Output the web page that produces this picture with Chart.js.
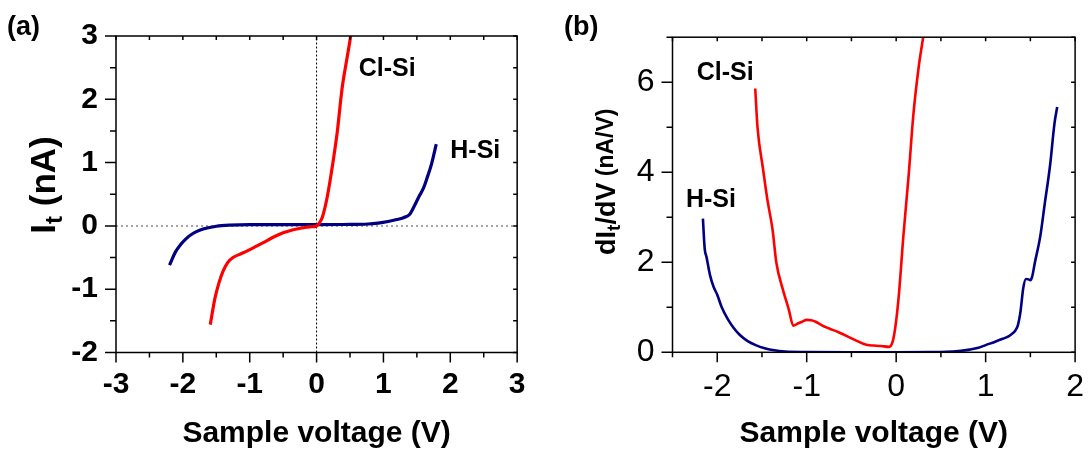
<!DOCTYPE html>
<html>
<head>
<meta charset="utf-8">
<script src="https://cdn.jsdelivr.net/npm/chart.js@4.4.1/dist/chart.umd.min.js"></script>
<style>
  html, body { margin: 0; padding: 0; background: #fff; overflow: hidden; width: 1088px; height: 450px; }
  #wrapA { position: absolute; left: 0; top: 0; width: 540px; height: 450px; }
  #wrapB { position: absolute; left: 540px; top: 0; width: 560px; height: 450px; }
</style>
</head>
<body>
<div id="wrapA"><canvas id="chartA" width="540" height="450"></canvas></div>
<div id="wrapB"><canvas id="chartB" width="560" height="450"></canvas></div>
<script>
const F = "'Liberation Sans', Arial, sans-serif";
const RED = '#ff0000';
const NAVY = '#000080';

// panel (a): I-V curves
const hsiV_a = [-2.2, -2.11, -2.03, -1.95, -1.85, -1.75, -1.62, -1.5, -1.3, -1.0, -0.5, 0, 0.4, 0.77, 0.92, 1.07, 1.2, 1.3, 1.39, 1.46, 1.53, 1.6, 1.65, 1.72, 1.79];
const hsiI_a = [-0.62, -0.41, -0.29, -0.2, -0.12, -0.07, -0.03, -0.005, 0.012, 0.02, 0.02, 0.02, 0.022, 0.03, 0.045, 0.07, 0.1, 0.13, 0.18, 0.31, 0.46, 0.6, 0.75, 0.98, 1.29];
const clsiV_a = [-1.59, -1.52, -1.46, -1.40, -1.33, -1.25, -1.13, -1.03, -0.9, -0.79, -0.65, -0.5, -0.35, -0.2, -0.1, 0, 0.05, 0.09, 0.16, 0.24, 0.31, 0.38, 0.46, 0.51, 0.54];
const clsiI_a = [-1.56, -1.14, -0.9, -0.72, -0.58, -0.5, -0.44, -0.39, -0.32, -0.26, -0.18, -0.11, -0.06, -0.03, -0.015, 0, 0.06, 0.15, 0.46, 0.97, 1.49, 2.16, 2.68, 3.0, 3.25];
const xTicksA = [-3, -2, -1, 0, 1, 2, 3];
const yTicksA = [-2, -1, 0, 1, 2, 3];

// panel (b): dI/dV curves
const hsiV_b = [-2.16, -2.14, -2.12, -2.08, -2.04, -2.0, -1.95, -1.88, -1.82, -1.75, -1.66, -1.57, -1.47, -1.38, -1.24, -1.0, -0.5, 0, 0.4, 0.56, 0.7, 0.82, 0.92, 1.0, 1.1, 1.19, 1.26, 1.30, 1.33, 1.36, 1.39, 1.42, 1.45, 1.48, 1.50, 1.52, 1.55, 1.61, 1.66, 1.72, 1.77, 1.80];
const hsiG_b = [2.97, 2.3, 2.12, 1.71, 1.45, 1.28, 1.0, 0.73, 0.55, 0.39, 0.25, 0.16, 0.09, 0.05, 0.015, 0.005, 0, 0, 0.003, 0.01, 0.03, 0.06, 0.1, 0.16, 0.23, 0.3, 0.36, 0.42, 0.48, 0.6, 0.91, 1.42, 1.63, 1.62, 1.6, 1.68, 1.99, 2.57, 3.29, 4.15, 5.09, 5.45];
const clsiV_b = [-1.575, -1.55, -1.49, -1.44, -1.38, -1.34, -1.27, -1.2, -1.15, -1.1, -1.05, -1.0, -0.95, -0.9, -0.83, -0.75, -0.65, -0.55, -0.47, -0.38, -0.32, -0.25, -0.17, -0.08, -0.04, -0.01, 0.03, 0.08, 0.14, 0.19, 0.25, 0.31];
const clsiG_b = [5.86, 5.0, 4.1, 3.4, 2.7, 2.0, 1.42, 0.95, 0.59, 0.64, 0.68, 0.72, 0.71, 0.68, 0.6, 0.53, 0.45, 0.36, 0.28, 0.2, 0.16, 0.15, 0.14, 0.12, 0.23, 0.55, 1.27, 2.57, 3.94, 5.23, 6.31, 7.1];
const xTicksB = [-2, -1, 0, 1, 2];
const yTicksB = [0, 2, 4, 6];

const pts = (xs, ys) => xs.map((x, i) => ({ x, y: ys[i] }));

// box with outward ticks at bottom/left and small inward ticks top/right
const framePlugin = {
  id: 'frame',
  afterDatasetsDraw(chart, args, o) {
    const { ctx, chartArea: a, scales: { x, y } } = chart;
    ctx.save();
    ctx.strokeStyle = '#000';
    ctx.lineWidth = 1.5;
    ctx.strokeRect(a.left, a.top, a.right - a.left, a.bottom - a.top);
    ctx.beginPath();
    for (let v = x.min; v <= x.max + 1e-9; v += o.xStep) {
      const px = x.getPixelForValue(v);
      const major = Math.abs(v - Math.round(v)) < 1e-6;
      ctx.moveTo(px, a.bottom); ctx.lineTo(px, a.bottom + (major ? 10 : 5));
      ctx.moveTo(px, a.top); ctx.lineTo(px, a.top + 4);
    }
    for (let v = y.min; v <= y.max + 1e-9; v += o.yStep) {
      const py = y.getPixelForValue(v);
      const major = o.yMajor.includes(v);
      ctx.moveTo(a.left, py); ctx.lineTo(a.left - (major ? 11 : 6), py);
      ctx.moveTo(a.right, py); ctx.lineTo(a.right - 4, py);
    }
    ctx.stroke();

    // y-axis title with subscript
    let total = 0;
    o.yTitle.forEach(p => { ctx.font = p.font; p.w = ctx.measureText(p.text).width; total += p.w; });
    ctx.translate(o.yTitleX, o.yTitleY);
    ctx.rotate(-Math.PI / 2);
    ctx.fillStyle = '#000';
    ctx.textAlign = 'left';
    ctx.textBaseline = 'alphabetic';
    let cx = -total / 2;
    o.yTitle.forEach(p => { ctx.font = p.font; ctx.fillText(p.text, cx, p.dy || 0); cx += p.w; });
    ctx.restore();

    ctx.save();
    ctx.fillStyle = '#000';
    ctx.textAlign = 'left';
    ctx.textBaseline = 'alphabetic';
    ctx.font = 'bold 27px ' + F;
    ctx.fillText(o.panel.text, o.panel.x, o.panel.y);
    o.notes.forEach(n => {
      ctx.font = 'bold 25px ' + F;
      ctx.fillText(n.text, x.getPixelForValue(n.x), y.getPixelForValue(n.y));
    });
    ctx.restore();
  }
};

function axis(min, max, ticksArr, fit, tickFont, pad, title) {
  const s = {
    type: 'linear', min, max,
    afterBuildTicks: sc => { sc.ticks = ticksArr.map(v => ({ value: v })); },
    afterFit: fit,
    grid: { display: false, drawTicks: false },
    border: { display: false },
    ticks: { font: tickFont, color: '#000', padding: pad, maxRotation: 0, autoSkip: false }
  };
  if (title) s.title = { display: true, text: title, color: '#000', padding: 0, font: { family: F, size: 30, weight: 'bold', lineHeight: 1.1 } };
  return s;
}

function lineSet(data, color, w) {
  return { data, borderColor: color, borderWidth: w, pointRadius: 0, fill: false, cubicInterpolationMode: 'monotone' };
}

new Chart(document.getElementById('chartA'), {
  type: 'line',
  data: {
    datasets: [
      lineSet(pts(clsiV_a, clsiI_a), RED, 3.2),
      lineSet(pts(hsiV_a, hsiI_a), NAVY, 3.2),
      { data: [{ x: 0, y: -2 }, { x: 0, y: 3 }], borderColor: '#000', borderWidth: 1, borderDash: [2, 2], pointRadius: 0 },
      { data: [{ x: -3, y: 0 }, { x: 3, y: 0 }], borderColor: '#888', borderWidth: 1.5, borderDash: [2, 3], pointRadius: 0 }
    ]
  },
  options: {
    responsive: false, animation: false,
    layout: { padding: { left: 0, top: 29, right: 14.5, bottom: 0 } },
    plugins: {
      legend: { display: false }, tooltip: { enabled: false },
      frame: {
        xStep: 0.5, yStep: 0.5, yMajor: yTicksA,
        yTitle: [
          { text: 'I', font: 'bold 35px ' + F },
          { text: 't', font: 'bold 24px ' + F, dy: 7 },
          { text: ' (nA)', font: 'bold 35px ' + F }
        ],
        yTitleX: 55, yTitleY: 185,
        panel: { text: '(a)', x: 7, y: 34.5 },
        notes: [{ text: 'Cl-Si', x: 0.63, y: 2.37 }, { text: 'H-Si', x: 2.0, y: 1.07 }]
      }
    },
    scales: {
      x: axis(-3, 3, xTicksA, s => { s.height = 97.5; }, { family: F, size: 30, weight: 'bold' }, 14.5, 'Sample voltage (V)'),
      y: axis(-2, 3, yTicksA, s => { s.width = 116; }, { family: F, size: 30, weight: 'bold' }, 18)
    }
  },
  plugins: [framePlugin]
});

new Chart(document.getElementById('chartB'), {
  type: 'line',
  data: {
    datasets: [
      lineSet(pts(clsiV_b, clsiG_b), RED, 2.6),
      lineSet(pts(hsiV_b, hsiG_b), NAVY, 2.6)
    ]
  },
  options: {
    responsive: false, animation: false,
    layout: { padding: { left: 0, top: 28.3, right: 19.3, bottom: 0 } },
    plugins: {
      legend: { display: false }, tooltip: { enabled: false },
      frame: {
        xStep: 0.5, yStep: 1, yMajor: yTicksB,
        yTitle: [
          { text: 'dI', font: 'bold 27px ' + F },
          { text: 't', font: 'bold 19px ' + F, dy: 5 },
          { text: '/dV', font: 'bold 27px ' + F },
          { text: ' (nA/V)', font: 'bold 23px ' + F, dy: -2 }
        ],
        yTitleX: 75, yTitleY: 181.7,
        panel: { text: '(b)', x: 24, y: 34.5 },
        notes: [{ text: 'Cl-Si', x: -2.23, y: 6.06 }, { text: 'H-Si', x: -2.35, y: 3.23 }]
      }
    },
    scales: {
      x: axis(-2.5, 2, xTicksB, s => { s.height = 97.7; }, { family: F, size: 32 }, 16, 'Sample voltage (V)'),
      y: axis(0, 7, yTicksB, s => { s.width = 132.5; }, { family: F, size: 32 }, 18)
    }
  },
  plugins: [framePlugin]
});
</script>
</body>
</html>
